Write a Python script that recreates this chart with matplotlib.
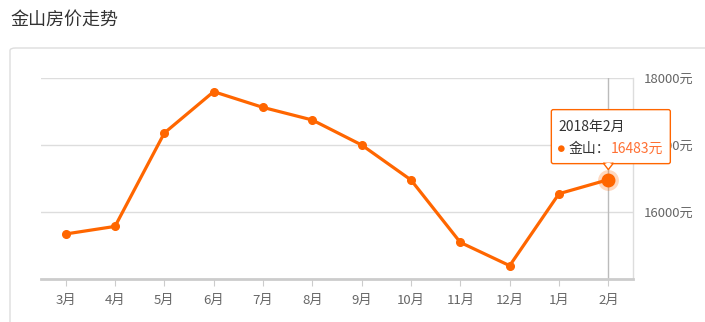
import matplotlib
matplotlib.use("Agg")
import matplotlib.pyplot as plt
from matplotlib.patches import FancyBboxPatch, Polygon, Circle
from matplotlib.transforms import IdentityTransform

plt.rcParams['font.family'] = ['Noto Sans CJK SC', 'DejaVu Sans']

months = ['3月', '4月', '5月', '6月', '7月', '8月', '9月', '10月', '11月', '12月', '1月', '2月']
prices = [15672, 15785, 17179, 17796, 17561, 17373, 17000, 16478, 15546, 15199, 16273, 16483]
yticks = [16000, 17000, 18000]
title = '金山房价走势'
series_name = '金山'
tip_title = '2018年2月'

W, H = 705, 322
orange = '#ff6600'

fig = plt.figure(figsize=(W / 100, H / 100), dpi=100)
fig.patch.set_facecolor('white')

# title and outer card
fig.text(10 / W, 1 - 20 / H, title, fontsize=13, color='#333333', va='center', ha='left')
card = FancyBboxPatch((10 / W, -0.2), 1.2, 1 - 48 / H + 0.2,
                      boxstyle='round,pad=0,rounding_size=0.008',
                      transform=fig.transFigure, facecolor='white',
                      edgecolor='#dddddd', linewidth=1, zorder=-10)
fig.patches.append(card)

ax = fig.add_axes([41 / W, 1 - 279 / H, (633 - 41) / W, (279 - 78) / H])
ax.set_zorder(1)
ax.set_facecolor('none')
x = list(range(len(months)))
ax.plot(x, prices, color=orange, linewidth=2.3, marker='o', markersize=5.5,
        zorder=3, solid_joinstyle='round')

ax.set_xlim(-0.5, len(months) - 0.5)
ax.set_ylim(15000, 18000)
ax.set_xticks(x)
ax.set_xticklabels(months, fontsize=9.5, color='#666666')
ax.set_yticks(yticks)
ax.set_yticklabels([f'{v}元' for v in yticks], fontsize=9.5, color='#666666')
ax.yaxis.tick_right()
ax.tick_params(axis='y', length=0, pad=8)
ax.tick_params(axis='x', length=5, color='#cccccc', pad=6)
ax.grid(axis='y', color='#dddddd', linewidth=1)
for s in ['top', 'left']:
    ax.spines[s].set_visible(False)
ax.spines['right'].set_color('#dddddd')
ax.spines['right'].set_linewidth(1)
ax.spines['bottom'].set_color('#cccccc')
ax.spines['bottom'].set_linewidth(2)

# hover state on last point
last = len(months) - 1
ax.axvline(last, color='#bbbbbb', linewidth=1, zorder=2)
ax.plot([last], [prices[last]], marker='o', markersize=15, color=orange,
        alpha=0.25, zorder=4, markeredgewidth=0)
ax.plot([last], [prices[last]], marker='o', markersize=9, color=orange, zorder=5)

fig.canvas.draw()
px, py = ax.transData.transform((last, prices[last]))
ident = IdentityTransform()
bl, br, bt, bb = px - 57, px + 62, py + 70, py + 16
box = FancyBboxPatch((bl, bb), br - bl, bt - bb,
                     boxstyle='round,pad=0,rounding_size=2', transform=ident,
                     facecolor='white', edgecolor=orange, linewidth=1, zorder=10)
fig.patches.append(box)
tri = Polygon([(px - 5, bb + 0.5), (px + 5, bb + 0.5), (px, py + 10)], closed=True,
              transform=ident, facecolor='white', edgecolor=orange, linewidth=1, zorder=11)
fig.patches.append(tri)
fig.patches.append(Polygon([(px - 4, bb + 1), (px + 4, bb + 1), (px, bb - 1)], closed=True,
                           transform=ident, facecolor='white', edgecolor='none', zorder=12))
fig.text(bl + 7, py + 53, tip_title, transform=ident, fontsize=10, color='#333333',
         va='center', ha='left', zorder=13)
fig.patches.append(Circle((bl + 10, py + 31), 3.3, transform=ident, facecolor=orange,
                          edgecolor='none', zorder=13))
fig.text(bl + 17, py + 31, f'{series_name}：', transform=ident, fontsize=10, color='#333333',
         va='center', ha='left', zorder=13)
fig.text(bl + 59, py + 31, f'{prices[last]}元', transform=ident, fontsize=10, color='#ff7033',
         va='center', ha='left', zorder=13)

fig.savefig('out.png', dpi=100)
